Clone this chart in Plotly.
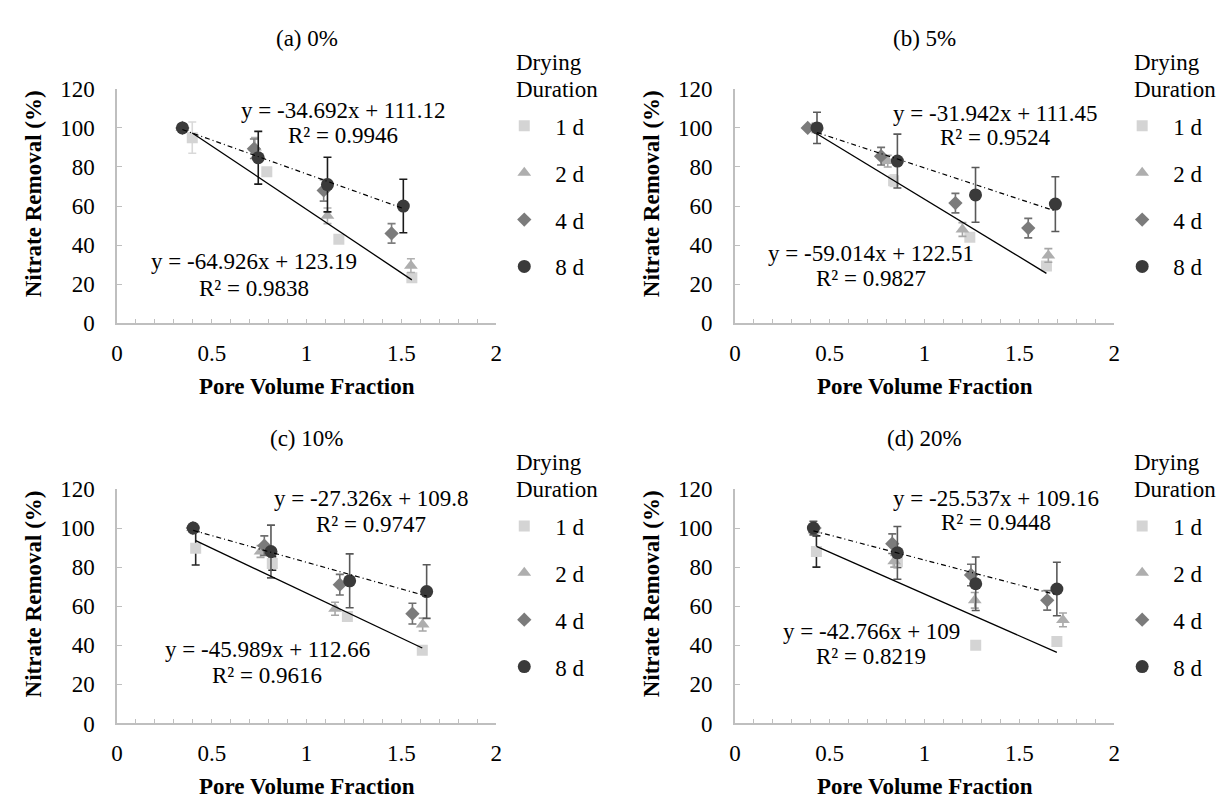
import plotly.graph_objects as go

# ---------------- data ----------------
panel_titles = ["(a) 0%", "(b) 5%", "(c) 10%", "(d) 20%"]
durations = ["1 d", "2 d", "4 d", "8 d"]
x_ticks = [0, 0.5, 1, 1.5, 2]
y_ticks = [0, 20, 40, 60, 80, 100, 120]

# each list holds the series in order 1 d, 2 d, 4 d, 8 d
a_x = [[0.397, 0.79, 1.17, 1.555], [0.345, 0.728, 1.11, 1.55],
       [0.345, 0.722, 1.09, 1.448], [0.345, 0.745, 1.11, 1.51]]
a_y = [[95, 77.5, 43, 23.3], [100, 90, 55, 29.5],
       [100, 89.3, 68, 46], [100, 84.7, 71, 60]]
a_err = [[8, 2, 1.5, 1.5], [0, 5, 4, 3.5],
         [0, 5, 5.5, 5], [0, 13.5, 14, 13.7]]

b_x = [[0.43, 0.837, 1.239, 1.643], [0.41, 0.806, 1.2, 1.653],
       [0.384, 0.771, 1.163, 1.547], [0.433, 0.857, 1.269, 1.69]]
b_y = [[100, 73, 44, 29.3], [100, 83, 48, 34.7],
       [100, 85.5, 61.5, 48.7], [100, 83, 65.7, 61]]
b_err = [[0, 3, 2, 2], [0, 3, 3.5, 3.5],
         [0, 4.5, 5, 5], [8, 13.8, 14, 14]]

c_x = [[0.415, 0.819, 1.215, 1.61], [0.40, 0.757, 1.15, 1.612],
       [0.40, 0.777, 1.175, 1.558], [0.402, 0.812, 1.227, 1.633]]
c_y = [[89.6, 81.9, 54.7, 37.5], [100, 88, 58.7, 50.6],
       [100, 91, 71, 56.2], [100, 88, 73, 67.5]]
c_err = [[8.5, 3.5, 2, 1.5], [0, 3, 3.3, 3.3],
         [0, 5, 5.3, 5.3], [0, 13.5, 13.8, 13.7]]

d_x = [[0.43, 0.857, 1.27, 1.698], [0.42, 0.84, 1.265, 1.73],
       [0.42, 0.83, 1.245, 1.647], [0.414, 0.857, 1.27, 1.698]]
d_y = [[88, 82.8, 40, 42], [98.8, 83, 63, 53],
       [100, 92, 76, 63], [100, 87.3, 71.5, 68.8]]
d_err = [[8, 3, 1, 1], [2, 3, 4, 3.5],
         [0, 5, 5.5, 5], [3.5, 13.5, 13.7, 13.7]]

# linear trend lines (per panel a, b, c, d)
slope_8d = [-34.692, -31.942, -27.326, -25.537]
intercept_8d = [111.12, 111.45, 109.8, 109.16]
r2_8d = [0.9946, 0.9524, 0.9747, 0.9448]
slope_1d = [-64.926, -59.014, -45.989, -42.766]
intercept_1d = [123.19, 122.51, 112.66, 109]
r2_1d = [0.9838, 0.9827, 0.9616, 0.8219]

panel_x = [a_x, b_x, c_x, d_x]
panel_y = [a_y, b_y, c_y, d_y]
panel_err = [a_err, b_err, c_err, d_err]

# ---------------- style / layout ----------------
W, H = 1228, 805
FONT = '"Liberation Serif", "Times New Roman", Times, "DejaVu Serif", serif'
FS = 23
marker_colors = ["#d4d4d4", "#aeaeae", "#7b7b7b", "#3a3a3a"]
marker_symbols = ["square", "triangle-up", "diamond", "circle"]
marker_sizes = [11, 12, 11, 13]
err_colors = [
    ["#d9d9d9", "#b0b0b0", "#7f7f7f", "#1a1a1a"],
    ["#d9d9d9", "#a6a6a6", "#6f6f6f", "#595959"],
    ["#262626", "#a6a6a6", "#6f6f6f", "#595959"],
    ["#262626", "#a6a6a6", "#6f6f6f", "#595959"],
]


def px(v):
    return v / W


def py(v):
    return 1 - v / H


# plot-area pixel boxes (left, right, top(120), bottom(0))
boxes = [(104, 487, 71, 313), (728, 1111, 71, 313),
         (104, 487, 484, 726), (728, 1111, 484, 726)]

# equation label positions in data coords: (x, y_eq, y_r2) high / low
eq_hi_pos = [(1.193, 108.9, 95.9), (1.37, 107.5, 95.2), (1.341, 115.1, 101.9), (1.376, 115.1, 102.9)]
eq_lo_pos = [(0.722, 31.5, 17.6), (0.718, 35.8, 22.8), (0.792, 37.8, 24.7), (0.718, 47.3, 34.3)]

fig = go.Figure()
annotations = []
layout_kw = {}
txt_font = dict(family=FONT, size=FS, color="black")

for i in range(4):
    n = "" if i == 0 else str(i + 1)
    xr, yr = "x" + n, "y" + n
    leg = "legend" + n
    l, r, t, b = boxes[i]

    xs, ys, es = panel_x[i], panel_y[i], panel_err[i]
    for k in range(4):
        fig.add_trace(go.Scatter(
            x=xs[k], y=ys[k], mode="markers", name=durations[k],
            xaxis=xr, yaxis=yr, legend=leg, legendgroup=f"p{i}{k}",
            marker=dict(symbol=marker_symbols[k], size=marker_sizes[k],
                        color=marker_colors[k], line=dict(width=0)),
            error_y=dict(type="data", array=es[k], visible=True,
                         color=err_colors[i][k], thickness=1.6, width=4),
        ))
    # trend lines: 1 d solid, 8 d dash-dot
    x1 = [min(xs[0]), max(xs[0])]
    fig.add_trace(go.Scatter(
        x=x1, y=[slope_1d[i] * v + intercept_1d[i] for v in x1],
        mode="lines", xaxis=xr, yaxis=yr, showlegend=False, hoverinfo="skip",
        line=dict(color="black", width=1.3)))
    x8 = [min(xs[3]), max(xs[3])]
    fig.add_trace(go.Scatter(
        x=x8, y=[slope_8d[i] * v + intercept_8d[i] for v in x8],
        mode="lines", xaxis=xr, yaxis=yr, showlegend=False, hoverinfo="skip",
        line=dict(color="black", width=1.2, dash="5px,3px,1px,3px")))

    axis_common = dict(showline=True, linecolor="#bfbfbf", linewidth=1.5,
                       showgrid=False, zeroline=False, ticks="inside",
                       tickcolor="#bfbfbf", ticklen=5, tickwidth=1.3,
                       tickfont=txt_font)
    layout_kw["xaxis" + n] = dict(
        axis_common, domain=[px(l), px(r)], range=[0, 2], anchor=yr,
        tickvals=x_ticks, ticktext=[f"{v:g}" for v in x_ticks], ticklabelstandoff=8,
        minor=dict(dtick=0.1, tick0=0, ticks="inside", ticklen=5,
                   tickcolor="#bfbfbf", tickwidth=1.3))
    layout_kw["yaxis" + n] = dict(
        axis_common, domain=[py(b), py(t)], range=[0, 120], anchor=xr,
        tickvals=y_ticks, ticktext=[str(v) for v in y_ticks], ticklabelstandoff=16)

    layout_kw[leg] = dict(
        x=px(r - 3), y=py(t + 16), xanchor="left", yanchor="top",
        font=txt_font, bgcolor="rgba(0,0,0,0)", itemwidth=52, tracegroupgap=14,
        itemclick=False, itemdoubleclick=False)

    # subplot title
    annotations.append(dict(text=panel_titles[i], x=px((l + r) / 2), y=py(t - 52),
                            xref="paper", yref="paper", showarrow=False, font=txt_font,
                            xanchor="center", yanchor="middle"))
    # axis titles
    annotations.append(dict(text="<b>Pore Volume Fraction</b>", x=px((l + r) / 2), y=py(b + 65),
                            xref="paper", yref="paper", showarrow=False, font=txt_font,
                            xanchor="center", yanchor="middle"))
    annotations.append(dict(text="<b>Nitrate Removal (%)</b>", x=px(l - 84), y=py(b - 134),
                            xref="paper", yref="paper", showarrow=False, textangle=-90,
                            font=txt_font, xanchor="center", yanchor="middle"))
    # legend title
    for txt, dy in (("Drying", -27), ("Duration", 1)):
        annotations.append(dict(text=txt, x=px(r + 18), y=py(t + dy),
                                xref="paper", yref="paper", showarrow=False, font=txt_font,
                                xanchor="left", yanchor="middle"))
    # equations
    hx, hy1, hy2 = eq_hi_pos[i]
    lx, ly1, ly2 = eq_lo_pos[i]
    for txt, xx, yy in (
        (f"y = {slope_8d[i]:g}x + {intercept_8d[i]:g}", hx, hy1),
        (f"R² = {r2_8d[i]:g}", hx, hy2),
        (f"y = {slope_1d[i]:g}x + {intercept_1d[i]:g}", lx, ly1),
        (f"R² = {r2_1d[i]:g}", lx, ly2),
    ):
        annotations.append(dict(text=txt, x=xx, y=yy, xref=xr, yref=yr, showarrow=False,
                                font=txt_font, xanchor="center", yanchor="middle"))

fig.update_layout(
    width=W, height=H, margin=dict(l=0, r=0, t=0, b=0),
    paper_bgcolor="white", plot_bgcolor="white", font=txt_font,
    annotations=annotations, **layout_kw)

fig.write_html("out.html")
